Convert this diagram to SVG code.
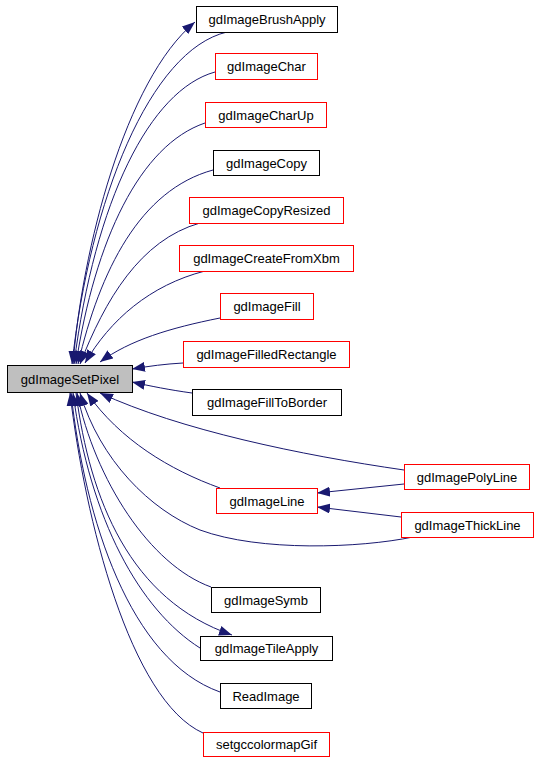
<svg xmlns="http://www.w3.org/2000/svg" width="538" height="759" viewBox="0 0 538 759">
<defs>
<style>
.n rect{fill:#ffffff;stroke:#000000;stroke-width:1}
.n.red rect{stroke:#ff0000}
.n.cur rect{fill:#bfbfbf}
.n text{font-family:"Liberation Sans",Arial,sans-serif;font-size:13px;fill:#000000;text-anchor:middle}
.e path{fill:none;stroke:#191970;stroke-width:1;marker-end:url(#ah)}
</style>
<marker id="ah" markerUnits="userSpaceOnUse" markerWidth="13" markerHeight="10" refX="13" refY="5" orient="auto">
<path d="M0,0 L13,5 L0,10 z" fill="#191970"/>
</marker>
</defs>
<rect width="538" height="759" fill="#ffffff"/>
<g id="edges" class="e">
<path d="M73,364 C82,250 125,80 195,22"/>
<path d="M227,32 C150,50 90,200 72,364"/>
<path d="M215,72 C150,90 95,200 74,364"/>
<path d="M205,123 C140,145 95,240 76,364"/>
<path d="M213,170 C140,190 100,270 78,364"/>
<path d="M200,223 C140,240 105,300 80,364"/>
<path d="M205,271 C150,285 110,320 85,363"/>
<path d="M220,318 C170,328 130,340 100,362"/>
<path d="M183,363 C165,364 150,366 132,369"/>
<path d="M192,393 C170,390 150,386 132,382"/>
<path d="M404,470 C300,455 180,430 100,393"/>
<path d="M220,488 C170,470 120,440 87,393"/>
<path d="M413,537 C360,548 260,552 200,530 C150,510 100,460 80,393"/>
<path d="M211,587 C150,565 95,480 77,393"/>
<path d="M76,393 C90,500 130,600 232,635"/>
<path d="M200,648 C140,610 90,520 73,393"/>
<path d="M220,692 C130,660 85,520 71,393"/>
<path d="M203,733 C130,700 85,520 70,393"/>
<path d="M404,484 L317,493"/>
<path d="M401,517 L317,507"/>
</g>
<g id="gdImageSetPixel" class="n cur"><rect x="7.5" y="365.5" width="125" height="27"/><text x="70" y="383.5">gdImageSetPixel</text></g>
<g id="gdImageBrushApply" class="n"><rect x="196.5" y="6.5" width="141" height="26"/><text x="267" y="24">gdImageBrushApply</text></g>
<g id="gdImageChar" class="n red"><rect x="215.5" y="53.5" width="102" height="26"/><text x="266.5" y="71">gdImageChar</text></g>
<g id="gdImageCharUp" class="n red"><rect x="205.5" y="102.5" width="121" height="25"/><text x="266" y="119.5">gdImageCharUp</text></g>
<g id="gdImageCopy" class="n"><rect x="213.5" y="150.5" width="106" height="25"/><text x="266.5" y="167.5">gdImageCopy</text></g>
<g id="gdImageCopyResized" class="n red"><rect x="189.5" y="197.5" width="154" height="26"/><text x="266.5" y="215">gdImageCopyResized</text></g>
<g id="gdImageCreateFromXbm" class="n red"><rect x="179.5" y="245.5" width="174" height="26"/><text x="266.5" y="263">gdImageCreateFromXbm</text></g>
<g id="gdImageFill" class="n red"><rect x="220.5" y="293.5" width="93" height="26"/><text x="267" y="311">gdImageFill</text></g>
<g id="gdImageFilledRectangle" class="n red"><rect x="183.5" y="341.5" width="166" height="26"/><text x="266.5" y="359">gdImageFilledRectangle</text></g>
<g id="gdImageFillToBorder" class="n"><rect x="192.5" y="389.5" width="149" height="26"/><text x="267" y="407">gdImageFillToBorder</text></g>
<g id="gdImagePolyLine" class="n red"><rect x="404.5" y="464.5" width="125" height="25"/><text x="467" y="481.5">gdImagePolyLine</text></g>
<g id="gdImageLine" class="n red"><rect x="216.5" y="488.5" width="101" height="25"/><text x="267" y="505.5">gdImageLine</text></g>
<g id="gdImageThickLine" class="n red"><rect x="401.5" y="512.5" width="132" height="25"/><text x="467.5" y="529.5">gdImageThickLine</text></g>
<g id="gdImageSymb" class="n"><rect x="211.5" y="587.5" width="109" height="25"/><text x="266" y="604.5">gdImageSymb</text></g>
<g id="gdImageTileApply" class="n"><rect x="200.5" y="636.5" width="132" height="24"/><text x="266.5" y="653">gdImageTileApply</text></g>
<g id="ReadImage" class="n"><rect x="220.5" y="683.5" width="91" height="25"/><text x="266" y="700.5">ReadImage</text></g>
<g id="setgccolormapGif" class="n red"><rect x="203.5" y="732.5" width="126" height="24"/><text x="266.5" y="749">setgccolormapGif</text></g>
</svg>
